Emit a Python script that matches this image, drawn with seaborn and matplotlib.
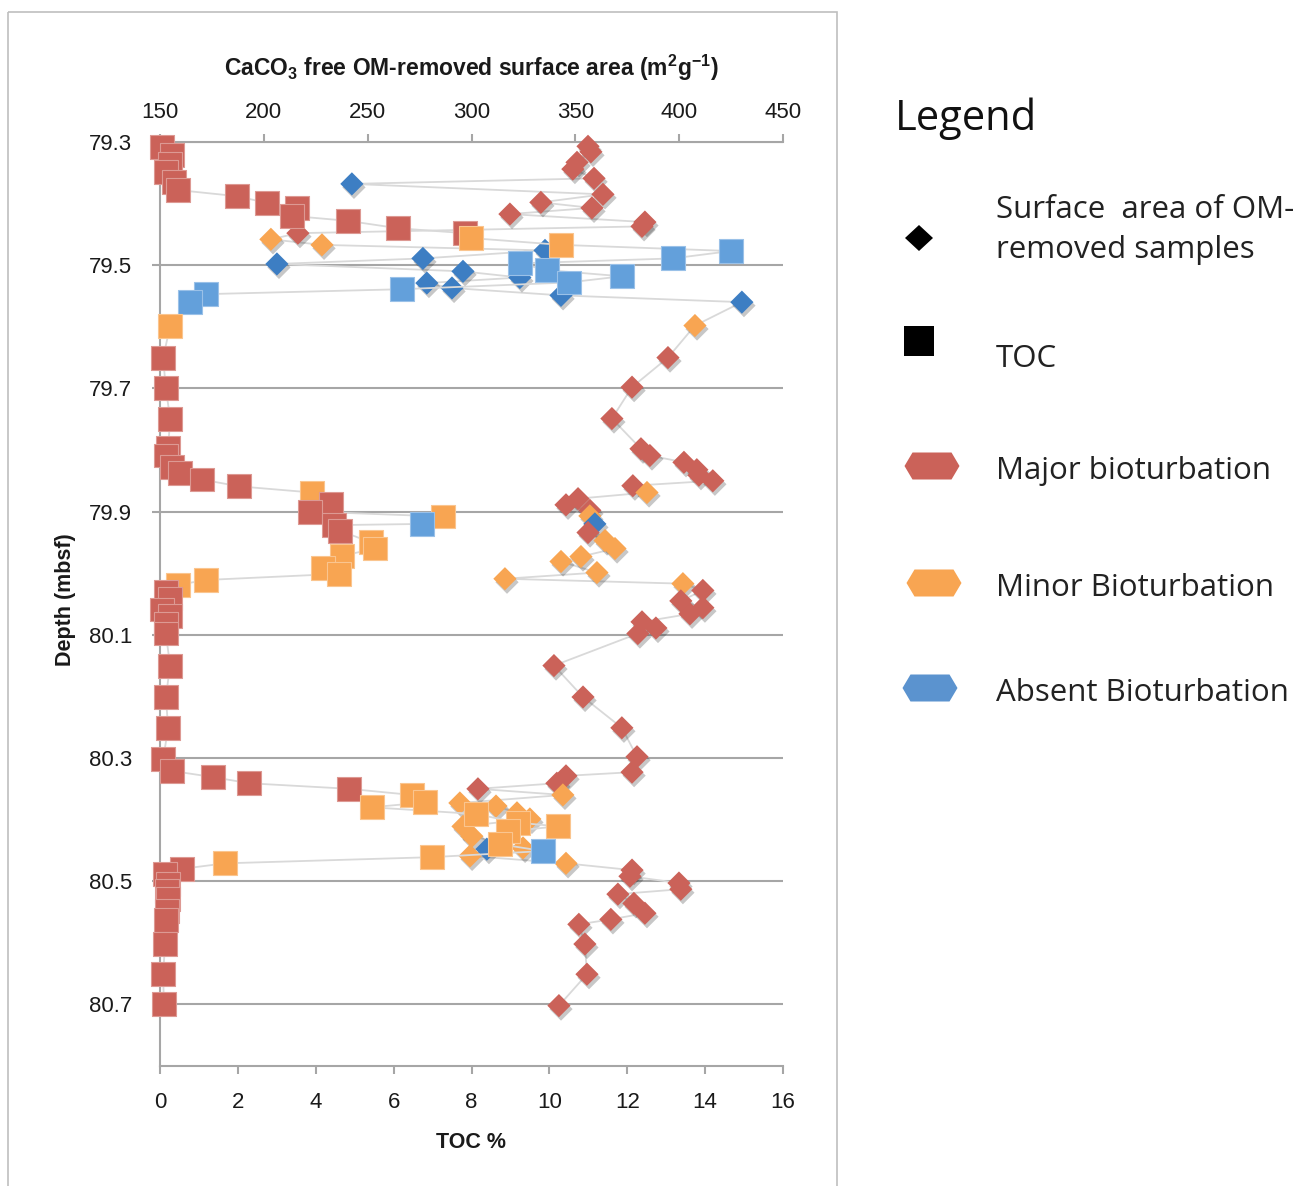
import numpy as np
import pandas as pd
import matplotlib
matplotlib.use("Agg")
import matplotlib.pyplot as plt
import matplotlib.patheffects as pe
from matplotlib.patches import Rectangle, Polygon
from matplotlib.ticker import FormatStrFormatter
import seaborn as sns

# ---------------- data ----------------
# TOC (%) measurements, bottom axis
toc_depth = [79.308, 79.321, 79.336, 79.349, 79.365, 79.378, 79.388, 79.399, 79.407, 79.420,
             79.428, 79.440, 79.448, 79.456, 79.467, 79.477, 79.489, 79.497, 79.508, 79.518,
             79.528, 79.539, 79.547, 79.560, 79.599, 79.650, 79.700, 79.749, 79.796, 79.809,
             79.827, 79.838, 79.848, 79.859, 79.869, 79.887, 79.900, 79.908, 79.920, 79.922,
             79.931, 79.950, 79.960, 79.972, 79.991, 80.001, 80.011, 80.019, 80.030, 80.041,
             80.059, 80.069, 80.082, 80.098, 80.150, 80.201, 80.251, 80.302, 80.321, 80.331,
             80.341, 80.350, 80.360, 80.372, 80.380, 80.391, 80.405, 80.411, 80.419, 80.440,
             80.451, 80.461, 80.471, 80.480, 80.489, 80.504, 80.516, 80.529, 80.549, 80.563,
             80.602, 80.651, 80.700]
toc_value = [0.05, 0.31, 0.26, 0.15, 0.36, 0.46, 1.98, 2.75, 3.52, 3.39,
             4.83, 6.11, 7.83, 7.99, 10.30, 14.66, 13.17, 9.24, 9.94, 11.86,
             10.50, 6.21, 1.18, 0.77, 0.26, 0.08, 0.15, 0.26, 0.21, 0.15,
             0.31, 0.51, 1.08, 2.03, 3.90, 4.39, 3.85, 7.27, 6.73, 4.47,
             4.62, 5.42, 5.52, 4.67, 4.19, 4.60, 1.18, 0.46, 0.15, 0.26,
             0.05, 0.26, 0.15, 0.15, 0.26, 0.15, 0.21, 0.08, 0.31, 1.36,
             2.29, 4.85, 6.47, 6.81, 5.44, 8.12, 9.19, 10.22, 8.94, 8.73,
             9.84, 6.98, 1.67, 0.56, 0.13, 0.21, 0.18, 0.21, 0.18, 0.15,
             0.13, 0.08, 0.10]
toc_class = (["Major"] * 13 + ["Minor"] * 2 + ["Absent"] * 9 + ["Minor"] + ["Major"] * 9
             + ["Minor", "Major", "Major", "Minor", "Absent", "Major", "Major"]
             + ["Minor"] * 7 + ["Major"] * 14 + ["Minor"] * 8 + ["Absent", "Minor", "Minor"]
             + ["Major"] * 10)

# CaCO3-free OM-removed surface area (m2/g), top axis
sa_depth = [79.307, 79.316, 79.333, 79.344, 79.359, 79.368, 79.385, 79.398, 79.407, 79.417,
            79.430, 79.437, 79.448, 79.458, 79.467, 79.476, 79.489, 79.498, 79.510, 79.520,
            79.529, 79.537, 79.549, 79.560, 79.598, 79.650, 79.698, 79.749, 79.798, 79.809,
            79.820, 79.832, 79.841, 79.850, 79.858, 79.869, 79.879, 79.889, 79.898, 79.907,
            79.920, 79.934, 79.947, 79.960, 79.973, 79.981, 79.999, 80.009, 80.017, 80.028,
            80.045, 80.056, 80.066, 80.079, 80.089, 80.098, 80.150, 80.201, 80.251, 80.298,
            80.323, 80.329, 80.341, 80.350, 80.360, 80.373, 80.378, 80.389, 80.399, 80.411,
            80.427, 80.446, 80.448, 80.459, 80.471, 80.482, 80.492, 80.503, 80.513, 80.521,
            80.536, 80.552, 80.562, 80.570, 80.602, 80.651, 80.702]
sa_value = [356.1, 357.5, 350.8, 348.8, 359.0, 242.4, 363.3, 333.4, 358.0, 318.5,
            383.5, 382.1, 216.4, 203.4, 228.0, 335.4, 276.6, 206.3, 295.9, 323.3,
            278.5, 290.6, 343.1, 430.2, 407.6, 394.6, 377.3, 367.6, 381.6, 385.9,
            402.3, 408.5, 409.5, 416.2, 377.7, 384.5, 351.3, 345.5, 357.0, 357.0,
            359.4, 356.1, 364.3, 369.1, 352.7, 343.1, 360.4, 316.1, 401.8, 411.4,
            400.8, 411.4, 405.2, 382.1, 388.8, 380.1, 339.7, 353.7, 372.4, 379.7,
            377.3, 345.5, 341.1, 303.1, 344.0, 294.4, 311.8, 321.9, 328.1, 295.9,
            300.2, 324.8, 307.4, 299.3, 345.5, 377.3, 376.3, 399.9, 400.8, 370.5,
            378.2, 383.5, 367.1, 351.7, 354.6, 355.6, 342.1]
sa_class = (["Major"] * 5 + ["Absent"] + ["Major"] * 7 + ["Minor"] * 2 + ["Absent"] * 9
            + ["Minor"] + ["Major"] * 10 + ["Minor", "Major", "Major", "Major", "Minor",
            "Absent", "Major"] + ["Minor"] * 7 + ["Major"] * 15 + ["Minor"] * 8
            + ["Absent", "Minor", "Minor"] + ["Major"] * 12)

depth_ticks = [79.3, 79.5, 79.7, 79.9, 80.1, 80.3, 80.5, 80.7]
toc_ticks = [0, 2, 4, 6, 8, 10, 12, 14, 16]
sa_ticks = [150, 200, 250, 300, 350, 400, 450]

classes = ["Major", "Minor", "Absent"]
class_labels = ["Major bioturbation", "Minor Bioturbation", "Absent Bioturbation"]

toc_df = pd.DataFrame({"depth": toc_depth, "toc": toc_value, "cls": toc_class})
sa_df = pd.DataFrame({"depth": sa_depth, "sa": sa_value, "cls": sa_class})

# ---------------- style ----------------
sns.set_style("white")
plt.rcParams["font.family"] = ["Liberation Sans", "DejaVu Sans"]
plt.rcParams["mathtext.default"] = "regular"

square_pal = {"Major": "#CB6259", "Minor": "#F8A552", "Absent": "#63A0DB"}
diamond_pal = {"Major": "#CB6259", "Minor": "#F8A552", "Absent": "#3D7EC3"}
GRID_C = "#A6A6A6"
LINE_C = "#D9D9D9"
TXT_C = "#1A1A1A"

W, H = 1310, 1186
fig = plt.figure(figsize=(W / 100, H / 100), dpi=100)
L, R, T, B = 160, 783, 142, 1066
ax_sa = fig.add_axes([L / W, 1 - B / H, (R - L) / W, (B - T) / H])
ax_toc = ax_sa.twiny()

# ---- surface area (diamonds) on the lower layer ----
sns.lineplot(data=sa_df, x="sa", y="depth", sort=False, estimator=None,
             color=LINE_C, lw=1.3, ax=ax_sa, zorder=2)
sns.scatterplot(data=sa_df, x="sa", y="depth", hue="cls", palette=diamond_pal,
                hue_order=classes, marker="D", s=140, edgecolor="none",
                linewidth=0, ax=ax_sa, legend=False, zorder=3, clip_on=False)
dcoll = ax_sa.collections[-1]
dcoll.set_path_effects([pe.SimplePatchShadow(offset=(1.5, -2.5), shadow_rgbFace="black",
                                             alpha=0.22), pe.Normal()])

# ---- TOC (squares) on the upper layer ----
sns.lineplot(data=toc_df, x="toc", y="depth", sort=False, estimator=None,
             color=LINE_C, lw=1.3, ax=ax_toc, zorder=2)
sns.scatterplot(data=toc_df, x="toc", y="depth", hue="cls", palette=square_pal,
                hue_order=classes, marker="s", s=295, linewidth=0.8,
                ax=ax_toc, legend=False, zorder=3, clip_on=False)
scoll = ax_toc.collections[-1]
fc = np.array(scoll.get_facecolors())
ec = fc.copy()
ec[:, :3] = fc[:, :3] + (1 - fc[:, :3]) * 0.35
scoll.set_edgecolors(ec)

# ---------------- axes ----------------
ax_sa.set_xlim(150, 450)
ax_toc.set_xlim(0, 16)
ax_sa.set_ylim(80.8, 79.3)
ax_sa.set_xticks(sa_ticks)
ax_toc.set_xticks(toc_ticks)
ax_sa.set_yticks(depth_ticks)
ax_sa.yaxis.set_major_formatter(FormatStrFormatter("%.1f"))

ax_sa.xaxis.tick_top()
ax_toc.xaxis.tick_bottom()
ax_sa.set_xlabel("")
ax_sa.set_ylabel("")
ax_toc.set_xlabel("")
ax_toc.set_ylabel("")

ax_sa.yaxis.grid(True, color=GRID_C, lw=1.5)
ax_sa.xaxis.grid(False)
ax_toc.grid(False)

for s in ["right", "bottom"]:
    ax_sa.spines[s].set_visible(False)
for s in ["top", "left"]:
    ax_sa.spines[s].set_color(GRID_C)
    ax_sa.spines[s].set_linewidth(1.5)
for s in ["top", "right", "left"]:
    ax_toc.spines[s].set_visible(False)
ax_toc.spines["bottom"].set_color(GRID_C)
ax_toc.spines["bottom"].set_linewidth(1.5)

ax_sa.tick_params(axis="x", top=True, bottom=False, labeltop=True, labelbottom=False,
                  direction="out", length=6, width=1.5, color=GRID_C, pad=8,
                  labelsize=16, labelcolor=TXT_C)
ax_sa.tick_params(axis="y", left=True, direction="out", length=6, width=1.5,
                  color=GRID_C, pad=14, labelsize=16, labelcolor=TXT_C)
ax_toc.tick_params(axis="x", bottom=True, top=False, labelbottom=True, labeltop=False,
                   direction="out", length=6, width=1.5, color=GRID_C, pad=13,
                   labelsize=16, labelcolor=TXT_C)

# axis titles
cx = (L + R) / 2 / W
fig.text(cx, 1 - 68 / H, "CaCO$_3$ free OM-removed surface area (m$^2$g$^{-1}$)",
         ha="center", va="center", fontsize=16.5, fontweight="bold", color=TXT_C)
fig.text(cx, 1 - 1142 / H, "TOC %", ha="center", va="center", fontsize=15.5,
         fontweight="bold", color=TXT_C)
fig.text(66 / W, 1 - 600 / H, "Depth (mbsf)", ha="center", va="center", rotation=90,
         fontsize=15.5, fontweight="bold", color=TXT_C)

# ---------------- legend panel & frame ----------------
lax = fig.add_axes([0, 0, 1, 1], zorder=5)
lax.set_xlim(0, W)
lax.set_ylim(H, 0)
lax.axis("off")
lax.add_patch(Rectangle((8, 12), 829, 1250, fill=False, ec="#BFBFBF", lw=1.2))

LEG_FONT = ["Open Sans", "DejaVu Sans"]
lax.text(895, 130, "Legend", fontsize=30, family=LEG_FONT, color="#111111",
         va="baseline", ha="left")
lax.add_patch(Polygon([(905, 238), (919, 225), (933, 238), (919, 251)],
                      closed=True, fc="black", ec="none"))
LFS = 22.5
lax.text(996, 218, "Surface  area of OM-", fontsize=LFS, family=LEG_FONT,
         color="#222222", va="baseline")
lax.text(996, 258, "removed samples", fontsize=LFS, family=LEG_FONT,
         color="#222222", va="baseline")
lax.add_patch(Rectangle((904, 326), 30, 30, fc="black", ec="none"))
lax.text(996, 367, "TOC", fontsize=LFS, family=LEG_FONT, color="#222222",
         va="baseline")


def hexagon(cx_, cy_, w=55, h=27, k=8):
    return [(cx_ - w / 2, cy_), (cx_ - w / 2 + k, cy_ - h / 2), (cx_ + w / 2 - k, cy_ - h / 2),
            (cx_ + w / 2, cy_), (cx_ + w / 2 - k, cy_ + h / 2), (cx_ - w / 2 + k, cy_ + h / 2)]


leg_cols = ["#CB6259", "#F8A552", "#5B93CF"]
for cls_lab, col, hx, hy in zip(class_labels, leg_cols, [932, 934, 930], [466, 583, 688]):
    lax.add_patch(Polygon(hexagon(hx, hy), closed=True, fc=col, ec="none"))
    lax.text(996, hy + 13, cls_lab, fontsize=LFS, family=LEG_FONT, color="#222222",
             va="baseline")

fig.savefig("out.png", dpi=100)
